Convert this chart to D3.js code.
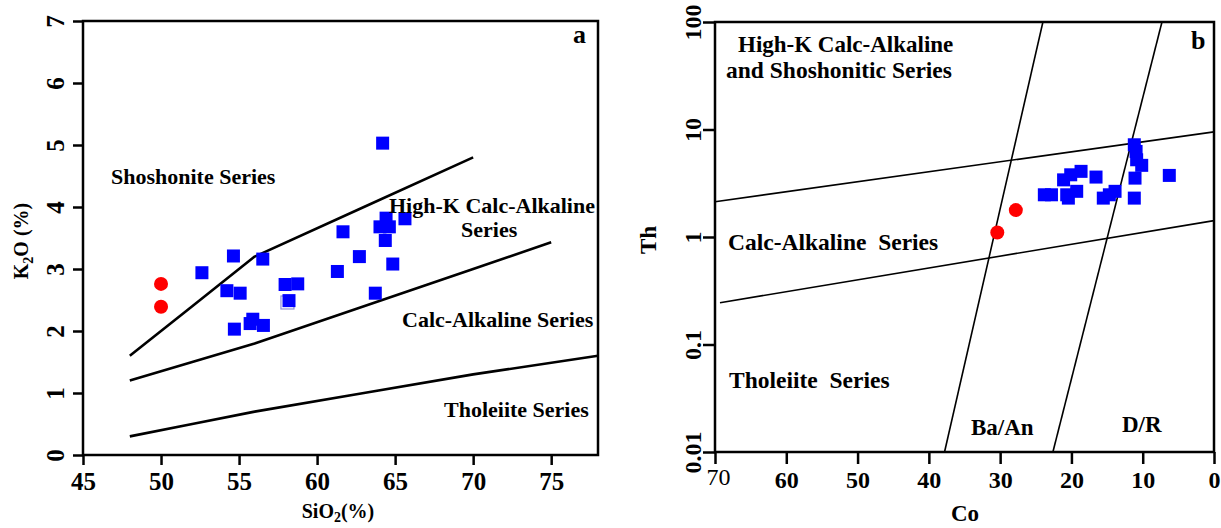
<!DOCTYPE html>
<html>
<head>
<meta charset="utf-8">
<script src="https://cdn.jsdelivr.net/npm/d3@7"></script>
<style>
html,body{margin:0;padding:0;background:#fff;}
svg{display:block;font-family:"Liberation Serif","Times New Roman",serif;}
text{white-space:pre;}
</style>
</head>
<body>
<svg id="chart" width="1221" height="528"></svg>
<script>
// ---------- Panel a data (SiO2 vs K2O) ----------
const aXTicks = [45, 50, 55, 60, 65, 70, 75];
const aYTicks = [0, 1, 2, 3, 4, 5, 6, 7];
const aCircleSiO2 = [50.0, 50.0];
const aCircleK2O  = [2.76, 2.39];
const aSquareSiO2 = [52.62, 54.64, 56.52, 54.22, 55.07, 57.95, 58.76, 58.2, 54.7, 55.88, 55.71, 56.56,
                     61.3, 61.66, 62.71, 64.2, 63.73, 64.03, 64.42, 64.63, 64.37, 64.85, 65.63];
const aSquareK2O  = [2.94, 3.21, 3.16, 2.65, 2.61, 2.75, 2.76, 2.49, 2.03, 2.19, 2.12, 2.09,
                     2.96, 3.60, 3.20, 5.03, 2.61, 3.68, 3.82, 3.68, 3.46, 3.08, 3.81];
const aGhostSiO2 = [58.1];
const aGhostK2O  = [2.46];
// boundary lines (Peccerillo & Taylor)
const aLineThoSiO2 = [48, 52, 56, 63, 70, 78];
const aLineThoK2O  = [0.3, 0.5, 0.7, 1.0, 1.3, 1.6];
const aLineCaSiO2  = [48, 52, 56, 63, 70, 75];
const aLineCaK2O   = [1.2, 1.5, 1.8, 2.4, 3.0, 3.43];
const aLineHkSiO2  = [48, 52, 56, 63, 70];
const aLineHkK2O   = [1.6, 2.4, 3.2, 4.0, 4.8];

// ---------- Panel b data (Co vs Th) ----------
const bXTicks = [70, 60, 50, 40, 30, 20, 10, 0];
const bYTicks = [0.01, 0.1, 1, 10, 100];
const bYTickLabels = ["0.01", "0.1", "1", "10", "100"];
const bCircleCo = [30.4, 27.8];
const bCircleTh = [1.10, 1.78];
const bSquareCo = [23.8, 22.8, 21.1, 20.1, 18.65, 16.55, 20.66, 20.43, 19.26, 15.53, 14.68, 13.88,
                   11.18, 10.93, 10.85, 10.14, 11.08, 11.18, 6.27];
const bSquareTh = [2.47, 2.47, 3.40, 3.79, 4.08, 3.61, 2.47, 2.30, 2.66, 2.30, 2.47, 2.66,
                   7.21, 6.25, 5.23, 4.64, 3.53, 2.30, 3.74];
const bLineUpperCo = [70, 0];
const bLineUpperTh = [2.13, 9.5];
const bLineLowerCo = [69.3, 0];
const bLineLowerTh = [0.245, 1.42];
const bLineBaCo = [37.8, 24.0];
const bLineBaTh = [0.01, 100];
const bLineDrCo = [22.6, 7.3];
const bLineDrTh = [0.01, 100];

const BLUE = "#0000ff", RED = "#ff0000";
const svg = d3.select("#chart");
svg.append("rect").attr("width", 1221).attr("height", 528).attr("fill", "#fff");

function styleAxis(g, size) {
  g.select(".domain").remove();
  g.selectAll(".tick line").attr("stroke", "#000").attr("stroke-width", 2.5);
  g.selectAll(".tick text").attr("fill", "#000").attr("font-size", size)
    .attr("font-weight", "bold").attr("font-family", "Liberation Serif, Times New Roman, serif");
}
function rotateYLabels(g, off) {
  g.selectAll(".tick text")
    .attr("transform", "rotate(-90)")
    .attr("x", 0).attr("y", -off).attr("dy", 0)
    .attr("text-anchor", "middle");
}
function pts(xs, ys) { return xs.map((x, i) => [x, ys[i]]); }

// ================= Panel a =================
const ax = d3.scaleLinear().domain([45, 78]).range([83, 598]);
const ay = d3.scaleLinear().domain([0, 7]).range([455, 21]);
const ga = svg.append("g");

const gax = ga.append("g").attr("transform", "translate(0,455)")
  .call(d3.axisBottom(ax).tickValues(aXTicks).tickSize(10).tickFormat(d3.format("d")));
styleAxis(gax, 25);
gax.selectAll(".tick text").attr("y", 35).attr("dy", 0);

const gay = ga.append("g").attr("transform", "translate(83,0)")
  .call(d3.axisLeft(ay).tickValues(aYTicks).tickSize(10).tickFormat(d3.format("d")));
styleAxis(gay, 25);
rotateYLabels(gay, 19);

const lineA = d3.line().x(d => ax(d[0])).y(d => ay(d[1]));
[[aLineThoSiO2, aLineThoK2O], [aLineCaSiO2, aLineCaK2O], [aLineHkSiO2, aLineHkK2O]].forEach(([xs, ys]) => {
  ga.append("path").attr("d", lineA(pts(xs, ys))).attr("fill", "none")
    .attr("stroke", "#000").attr("stroke-width", 2.6).attr("stroke-linejoin", "round");
});

ga.append("rect").attr("x", ax(45)).attr("y", ay(7)).attr("width", ax(78) - ax(45)).attr("height", ay(0) - ay(7))
  .attr("fill", "none").attr("stroke", "#000").attr("stroke-width", 2.5);

const sq = 13;
ga.selectAll("rect.ghost").data(pts(aGhostSiO2, aGhostK2O)).enter().append("rect")
  .attr("class", "ghost").attr("x", d => ax(d[0]) - sq / 2).attr("y", d => ay(d[1]) - sq / 2)
  .attr("width", sq).attr("height", sq).attr("fill", "#fff").attr("stroke", "#8f8fd8").attr("stroke-width", 1.2);
ga.selectAll("rect.sq").data(pts(aSquareSiO2, aSquareK2O)).enter().append("rect")
  .attr("class", "sq").attr("x", d => ax(d[0]) - sq / 2).attr("y", d => ay(d[1]) - sq / 2)
  .attr("width", sq).attr("height", sq).attr("fill", BLUE);
ga.selectAll("circle").data(pts(aCircleSiO2, aCircleK2O)).enter().append("circle")
  .attr("cx", d => ax(d[0])).attr("cy", d => ay(d[1])).attr("r", 7).attr("fill", RED);

function label(g, txt, x, y, size, anchor) {
  return g.append("text").attr("x", x).attr("y", y).attr("font-size", size).attr("font-weight", "bold")
    .attr("fill", "#000").attr("text-anchor", anchor || "start").text(txt);
}
label(ga, "a", 573, 43, 26);
label(ga, "Shoshonite Series", 111, 184, 22);
label(ga, "High-K Calc-Alkaline", 389, 213, 22);
label(ga, "Series", 461, 237, 22);
label(ga, "Calc-Alkaline Series", 402, 327, 22);
label(ga, "Tholeiite Series", 444, 417, 22);

// axis titles a
const tA = ga.append("text").attr("x", 338).attr("y", 518).attr("font-size", 20).attr("font-weight", "bold")
  .attr("text-anchor", "middle").attr("fill", "#000");
tA.append("tspan").text("SiO");
tA.append("tspan").attr("font-size", 14).attr("dy", 4).text("2");
tA.append("tspan").attr("dy", -4).text("(%)");
const tAy = ga.append("text").attr("transform", "translate(28,241) rotate(-90)").attr("font-size", 20)
  .attr("font-weight", "bold").attr("text-anchor", "middle").attr("fill", "#000");
tAy.append("tspan").text("K");
tAy.append("tspan").attr("font-size", 14).attr("dy", 5).text("2");
tAy.append("tspan").attr("dy", -5).text("O (%)");

// ================= Panel b =================
const bx = d3.scaleLinear().domain([70, 0]).range([715, 1214]);
const by = d3.scaleLog().domain([0.01, 100]).range([452, 22]);
const gb = svg.append("g");

const gbx = gb.append("g").attr("transform", "translate(0,452)")
  .call(d3.axisBottom(bx).tickValues(bXTicks).tickSize(12).tickFormat(d3.format("d")));
styleAxis(gbx, 24);
gbx.selectAll(".tick text").attr("y", 36).attr("dy", 0);
gbx.selectAll(".tick text").filter(d => d === 70).attr("font-weight", "normal").attr("dx", 3).attr("y", 33);

const gby = gb.append("g").attr("transform", "translate(715,0)")
  .call(d3.axisLeft(by).tickValues(bYTicks).tickSize(12).tickFormat((d, i) => bYTickLabels[i]));
styleAxis(gby, 24);
rotateYLabels(gby, 14);

const lineB = d3.line().x(d => bx(d[0])).y(d => by(d[1]));
[[bLineUpperCo, bLineUpperTh], [bLineLowerCo, bLineLowerTh], [bLineBaCo, bLineBaTh], [bLineDrCo, bLineDrTh]].forEach(([xs, ys]) => {
  gb.append("path").attr("d", lineB(pts(xs, ys))).attr("fill", "none")
    .attr("stroke", "#000").attr("stroke-width", 1.6);
});

gb.append("rect").attr("x", bx(70)).attr("y", by(100)).attr("width", bx(0) - bx(70)).attr("height", by(0.01) - by(100))
  .attr("fill", "none").attr("stroke", "#000").attr("stroke-width", 2.5);

gb.selectAll("rect.sq").data(pts(bSquareCo, bSquareTh)).enter().append("rect")
  .attr("class", "sq").attr("x", d => bx(d[0]) - sq / 2).attr("y", d => by(d[1]) - sq / 2)
  .attr("width", sq).attr("height", sq).attr("fill", BLUE);
gb.selectAll("circle").data(pts(bCircleCo, bCircleTh)).enter().append("circle")
  .attr("cx", d => bx(d[0])).attr("cy", d => by(d[1])).attr("r", 7).attr("fill", RED);

label(gb, "b", 1191, 49, 26);
label(gb, "High-K Calc-Alkaline", 738, 52, 23);
label(gb, "and Shoshonitic Series", 726, 78, 23.5);
label(gb, "Calc-Alkaline  Series", 728, 250, 23.5);
label(gb, "Tholeiite  Series", 729, 388, 23.5);
label(gb, "Ba/An", 971, 435, 23);
label(gb, "D/R", 1122, 432, 23);

label(gb, "Co", 965, 521, 23, "middle");
gb.append("text").attr("transform", "translate(656,240) rotate(-90)").attr("font-size", 23)
  .attr("font-weight", "bold").attr("text-anchor", "middle").attr("fill", "#000").text("Th");
</script>
</body>
</html>
